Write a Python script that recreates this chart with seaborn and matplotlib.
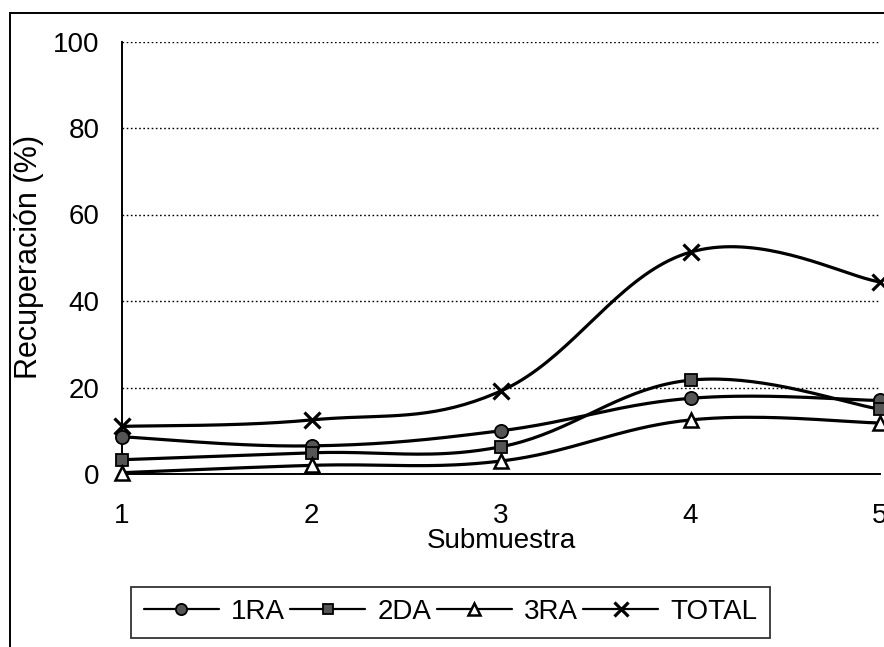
import numpy as np
import pandas as pd
import matplotlib
matplotlib.use("Agg")
import matplotlib.pyplot as plt
from matplotlib.lines import Line2D
from matplotlib.patches import Rectangle
import seaborn as sns

# Recovery per sub-sample (%)
submuestra = [1, 2, 3, 4, 5]
rec_1ra = [8.6, 6.5, 10.0, 17.5, 17.0]
rec_2da = [3.3, 4.9, 6.3, 21.7, 15.0]
rec_3ra = [0.3, 2.0, 3.0, 12.5, 11.8]
rec_total = [11.0, 12.5, 19.2, 51.3, 44.4]
series_names = ["1RA", "2DA", "3RA", "TOTAL"]
x_ticks = [1, 2, 3, 4, 5]
y_ticks = [0, 20, 40, 60, 80, 100]


def smooth_curve(xs, ys, k=0.19, n=40):
    """Bezier smoothing through every point (spreadsheet-style smoothed line)."""
    p = np.column_stack([xs, ys]).astype(float)
    pts = []
    for i in range(len(p) - 1):
        p0 = p[i - 1] if i > 0 else p[i]
        p1, p2 = p[i], p[i + 1]
        p3 = p[i + 2] if i + 2 < len(p) else p[i + 1]
        c1 = p1 + (p2 - p0) * k
        c2 = p2 - (p3 - p1) * k
        t = np.linspace(0, 1, n)[:, None]
        seg = ((1 - t) ** 3) * p1 + 3 * ((1 - t) ** 2) * t * c1 \
            + 3 * (1 - t) * t ** 2 * c2 + t ** 3 * p2
        pts.append(seg if i == 0 else seg[1:])
    return np.vstack(pts)


sns.set_theme(style="white")
plt.rcParams["font.family"] = ["Liberation Sans", "DejaVu Sans"]
plt.rcParams["font.size"] = 20

W, H = 884, 647
fig = plt.figure(figsize=(W / 100, H / 100), dpi=100)
fig.patch.set_facecolor("white")

ax_left, ax_right, ax_top, ax_bottom = 122, 880, 41.5, 474
ax = fig.add_axes([ax_left / W, 1 - ax_bottom / H,
                   (ax_right - ax_left) / W, (ax_bottom - ax_top) / H])
ax.set_facecolor("white")

values = [rec_1ra, rec_2da, rec_3ra, rec_total]
frames = []
for name, ys in zip(series_names, values):
    c = smooth_curve(submuestra, ys)
    frames.append(pd.DataFrame({"x": c[:, 0], "y": c[:, 1], "serie": name}))
curves = pd.concat(frames, ignore_index=True)

sns.lineplot(data=curves, x="x", y="y", hue="serie", units="serie",
             palette=["black"] * 4, estimator=None, sort=False,
             linewidth=2.3, legend=False, ax=ax, clip_on=False)

styles = {
    "1RA": dict(marker="o", markersize=9.5, markerfacecolor="#555555",
                markeredgecolor="black", markeredgewidth=1.3),
    "2DA": dict(marker="s", markersize=9, markerfacecolor="#555555",
                markeredgecolor="black", markeredgewidth=1.3),
    "3RA": dict(marker="^", markersize=10, markerfacecolor="white",
                markeredgecolor="black", markeredgewidth=1.8),
    "TOTAL": dict(marker="x", markersize=12, markeredgecolor="black",
                  markeredgewidth=2.3),
}
for name, ys in zip(series_names, values):
    ax.plot(submuestra, ys, linestyle="none", clip_on=False, zorder=5,
            **styles[name])

ax.set_xlim(1, 5)
ax.set_ylim(0, 100)
ax.set_xticks(x_ticks)
ax.set_yticks(y_ticks)
ax.set_xticklabels([str(v) for v in x_ticks])
ax.set_yticklabels([str(v) for v in y_ticks])
ax.tick_params(axis="both", direction="out", length=6, width=1.2,
               color="black", labelsize=20, labelcolor="black")
ax.tick_params(axis="y", pad=10)
ax.tick_params(axis="x", pad=15)
ax.set_xlabel("")
ax.set_ylabel("")

ax.yaxis.grid(True, linestyle=(0, (1.2, 1.8)), linewidth=1.0, color="black")
ax.xaxis.grid(False)
for side in ("top", "right"):
    ax.spines[side].set_visible(False)
for side in ("left", "bottom"):
    ax.spines[side].set_visible(True)
    ax.spines[side].set_color("black")
    ax.spines[side].set_linewidth(1.4)

fig.text(29 / W, 1 - 257 / H, "Recuperación (%)", rotation=90,
         ha="center", va="center", fontsize=22, color="black")
fig.text(501 / W, 1 - 541 / H, "Submuestra", ha="center", va="center",
         fontsize=20, color="black")

handles = []
for name in series_names:
    st = dict(styles[name])
    st["markersize"] = st["markersize"] * 0.85
    handles.append(Line2D([0], [0], color="black", linewidth=1.6, **st))
leg = fig.legend(handles, series_names, loc="center", ncol=4,
                 bbox_to_anchor=(450.5 / W, 1 - 612 / H),
                 frameon=True, fancybox=False, shadow=False,
                 handlelength=2.7, handletextpad=0.43, columnspacing=0.2,
                 borderpad=0.45, fontsize=20, borderaxespad=0)
leg.get_frame().set_edgecolor("black")
leg.get_frame().set_linewidth(1.3)
leg.get_frame().set_facecolor("white")
for t in leg.get_texts():
    t.set_color("black")

# chart-area border
fig.add_artist(Rectangle((10 / W, -0.2), 1.5, (H - 13) / H + 0.2,
                         transform=fig.transFigure, fill=False,
                         edgecolor="black", linewidth=1.4))

fig.savefig("out.png", dpi=100, facecolor="white")
